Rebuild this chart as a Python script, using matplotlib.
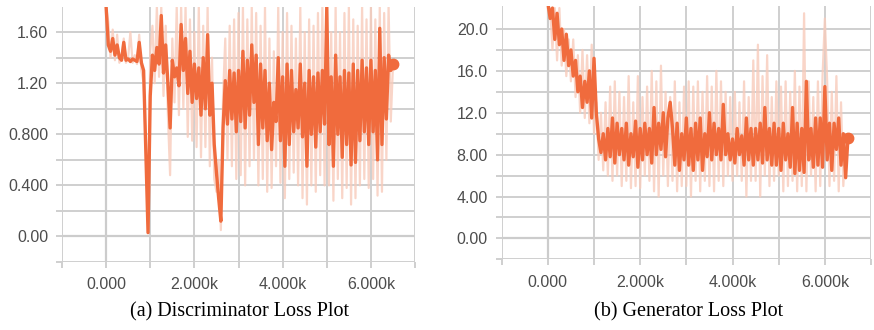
import numpy as np
import matplotlib
matplotlib.use("Agg")
import matplotlib.pyplot as plt
from matplotlib.ticker import FixedLocator, FixedFormatter

# steps (x axis) shared by every series, 0 .. 6500 every 50
steps = list(range(0, 6550, 50))

# discriminator loss, smoothed line
d_smooth = [1.80, 1.50, 1.45, 1.55, 1.42, 1.50, 1.40, 1.38, 1.52, 1.38,
            1.39, 1.37, 1.39, 1.38, 1.37, 1.52, 1.36, 1.30, 0.65, 0.03,
            1.10, 1.42, 1.30, 1.48, 1.35, 1.73, 1.28, 1.50, 1.20, 0.85,
            1.38, 1.25, 1.32, 1.18, 1.66, 1.30, 1.55, 1.12, 1.45, 1.05,
            1.35, 1.08, 1.32, 0.95, 1.40, 1.00, 1.58, 0.95, 1.20, 0.72,
            0.50, 0.30, 0.12, 0.85, 1.22, 0.88, 1.30, 0.92, 1.28, 0.82,
            1.30, 0.90, 1.45, 0.85, 1.38, 0.95, 1.50, 1.05, 1.42, 0.72,
            1.35, 0.85, 1.30, 0.75, 1.20, 0.68, 1.05, 0.90, 1.40, 0.75,
            1.25, 0.55, 1.35, 0.72, 1.30, 0.82, 1.15, 0.85, 1.35, 0.78,
            1.20, 0.55, 1.30, 0.80, 1.25, 0.70, 1.28, 0.82, 1.30, 0.88,
            1.80, 0.72, 1.25, 0.55, 1.42, 0.80, 1.25, 0.62, 1.30, 0.72,
            1.28, 0.56, 1.35, 0.58, 1.30, 0.75, 1.38, 0.82, 1.32, 0.72,
            1.38, 0.82, 1.30, 0.60, 1.63, 0.72, 1.40, 0.92, 1.42, 1.30,
            1.35]

# discriminator loss, raw values (faded)
d_raw = [1.80, 1.68, 1.40, 1.62, 1.38, 1.58, 1.36, 1.40, 1.55, 1.36,
         1.40, 1.60, 1.36, 1.42, 1.35, 1.58, 1.30, 1.20, 0.70, 0.10,
         1.45, 1.65, 1.20, 1.80, 1.25, 1.80, 1.10, 1.65, 0.95, 0.48,
         1.55, 1.05, 1.80, 0.95, 1.80, 1.00, 1.80, 0.78, 1.70, 0.75,
         1.60, 0.70, 1.80, 0.62, 1.65, 0.70, 1.80, 0.55, 1.40, 0.45,
         0.35, 0.60, 0.05, 1.10, 1.55, 0.60, 1.65, 0.55, 1.70, 0.45,
         1.75, 0.48, 1.80, 0.40, 1.70, 0.55, 1.80, 0.60, 1.75, 0.40,
         1.65, 0.45, 1.80, 0.35, 1.55, 0.38, 1.45, 0.55, 1.80, 0.42,
         1.60, 0.30, 1.75, 0.45, 1.65, 0.50, 1.55, 0.40, 1.80, 0.30,
         1.60, 0.25, 1.70, 0.40, 1.65, 0.35, 1.75, 0.48, 1.80, 0.40,
         1.80, 0.40, 1.60, 0.28, 1.80, 0.45, 1.60, 0.30, 1.75, 0.38,
         1.80, 0.25, 1.70, 0.30, 1.65, 0.40, 1.80, 0.45, 1.70, 0.38,
         1.80, 0.45, 1.70, 0.32, 1.80, 0.35, 1.75, 0.60, 1.80, 0.90,
         1.35]

# generator loss, smoothed line
g_smooth = [22.5, 21.0, 22.0, 19.0, 21.5, 18.5, 20.0, 17.0, 19.5, 16.5,
            18.0, 15.5, 17.0, 14.0, 15.5, 12.5, 15.0, 13.0, 16.0, 11.5,
            17.2, 12.0, 9.5, 8.2, 10.0, 7.5, 10.5, 7.8, 11.5, 7.2,
            11.0, 8.0, 10.5, 7.5, 11.0, 7.0, 10.0, 7.8, 11.2, 6.8,
            10.5, 7.5, 11.0, 8.0, 10.5, 7.2, 12.5, 8.0, 11.0, 8.5,
            12.0, 7.8, 11.5, 13.0, 10.5, 7.0, 11.0, 6.5, 10.0, 7.5,
            11.5, 7.0, 10.5, 6.5, 11.0, 7.5, 11.5, 6.5, 10.0, 7.8,
            12.0, 7.5, 11.0, 8.0, 10.5, 7.5, 12.8, 8.0, 10.0, 7.5,
            9.5, 7.2, 10.5, 8.0, 9.8, 7.0, 11.5, 7.5, 10.5, 7.0,
            10.5, 7.5, 11.0, 7.2, 12.5, 7.5, 10.5, 7.0, 11.0, 7.0,
            10.5, 6.5, 11.0, 7.5, 10.0, 6.8, 12.5, 6.2, 11.0, 6.5,
            10.5, 6.3, 15.0, 7.5, 10.5, 6.8, 11.5, 7.0, 11.5, 6.8,
            14.5, 7.5, 11.0, 6.5, 11.0, 8.5, 11.5, 7.0, 10.0, 5.8,
            9.6]

# generator loss, raw values (faded)
g_raw = [22.0, 22.0, 18.0, 22.0, 17.0, 22.0, 16.5, 20.0, 15.5, 19.0,
         15.0, 19.0, 13.5, 17.5, 12.0, 18.0, 11.5, 17.5, 11.0, 18.5,
         10.0, 13.0, 7.5, 12.0, 6.5, 13.0, 6.0, 14.5, 5.5, 15.0,
         6.0, 14.0, 5.0, 13.5, 5.5, 15.5, 4.8, 13.0, 5.0, 15.5,
         4.8, 13.5, 6.0, 14.5, 5.5, 16.0, 4.5, 15.0, 4.0, 16.5,
         6.0, 14.0, 5.0, 13.5, 5.5, 15.0, 4.5, 13.0, 5.0, 14.5,
         5.0, 15.0, 4.0, 14.5, 5.5, 15.0, 4.5, 14.0, 5.5, 15.5,
         5.0, 14.5, 4.5, 16.0, 5.5, 15.0, 5.0, 14.0, 6.0, 13.5,
         5.5, 14.0, 6.0, 13.0, 5.5, 15.0, 4.0, 13.5, 5.5, 17.0,
         5.5, 18.5, 4.0, 15.5, 6.0, 17.5, 5.0, 13.5, 5.5, 15.0,
         6.0, 14.5, 4.5, 15.0, 5.0, 14.0, 5.5, 16.0, 4.5, 14.5,
         5.0, 21.5, 4.5, 15.0, 6.0, 13.5, 4.5, 15.0, 5.0, 15.5,
         21.0, 15.0, 5.0, 14.0, 5.5, 15.5, 4.5, 13.0, 5.0, 9.5,
         9.6]

x_ticks = [0, 2000, 4000, 6000]
x_labels = ["0.000", "2.000k", "4.000k", "6.000k"]
d_ticks = [0.0, 0.4, 0.8, 1.2, 1.6]
d_labels = ["0.00", "0.400", "0.800", "1.20", "1.60"]
g_ticks = [0, 4, 8, 12, 16, 20]
g_labels = ["0.00", "4.00", "8.00", "12.0", "16.0", "20.0"]
captions = ["(a) Discriminator Loss Plot", "(b) Generator Loss Plot"]

line_col = "#f06b3d"
raw_col = "#f8cbbb"
grid_col = "#cfcfcf"
zero_col = "#858585"

fig = plt.figure(figsize=(8.74, 3.30), dpi=100)
ax1 = fig.add_axes([0.0709, 0.206, 0.404, 0.774])
ax2 = fig.add_axes([0.574, 0.214, 0.4226, 0.768])


def setup(ax, smooth, raw, yticks, ylabels, ystep, ylim):
    x = np.array(steps)
    ax.plot(x, raw, color=raw_col, lw=1.6, alpha=0.8, zorder=2)
    ax.plot(x, smooth, color=line_col, lw=2.4, zorder=3)
    ax.plot(x[-1], smooth[-1], "o", color=line_col, ms=7.5, zorder=4)
    ax.set_xlim(-1000, 7000)
    ax.set_ylim(*ylim)
    ax.xaxis.set_major_locator(FixedLocator(x_ticks))
    ax.xaxis.set_major_formatter(FixedFormatter(x_labels))
    ax.xaxis.set_minor_locator(FixedLocator([-1000, 1000, 3000, 5000, 7000]))
    ax.yaxis.set_major_locator(FixedLocator(yticks))
    ax.yaxis.set_major_formatter(FixedFormatter(ylabels))
    ax.yaxis.set_minor_locator(FixedLocator(
        np.arange(ylim[0] + 1e-9, yticks[-1] + ystep, ystep * 2)))
    ax.grid(True, which="both", color=grid_col, lw=1.4, zorder=0)
    ax.axhline(0, color=zero_col, lw=1.5, zorder=1)
    ax.axvline(0, color=zero_col, lw=1.5, zorder=1)
    for s in ax.spines.values():
        s.set_visible(False)
    ax.tick_params(which="both", length=4, color=grid_col, width=1.4,
                   labelcolor="#4d4d4d", labelsize=11.5)
    ax.tick_params(axis="x", pad=7)
    ax.tick_params(axis="y", pad=6)
    for lab in ax.get_xticklabels() + ax.get_yticklabels():
        lab.set_fontfamily("Liberation Sans")


setup(ax1, d_smooth, d_raw, d_ticks, d_labels, 0.1, (-0.2, 1.8))
setup(ax2, g_smooth, g_raw, g_ticks, g_labels, 1.0, (-2, 22.2))

fig.text(0.2735, 0.0545, captions[0], ha="center", va="center",
         fontsize=14.5, family="Liberation Serif")
fig.text(0.788, 0.0545, captions[1], ha="center", va="center",
         fontsize=14.5, family="Liberation Serif")

fig.savefig("out.png", dpi=100)
